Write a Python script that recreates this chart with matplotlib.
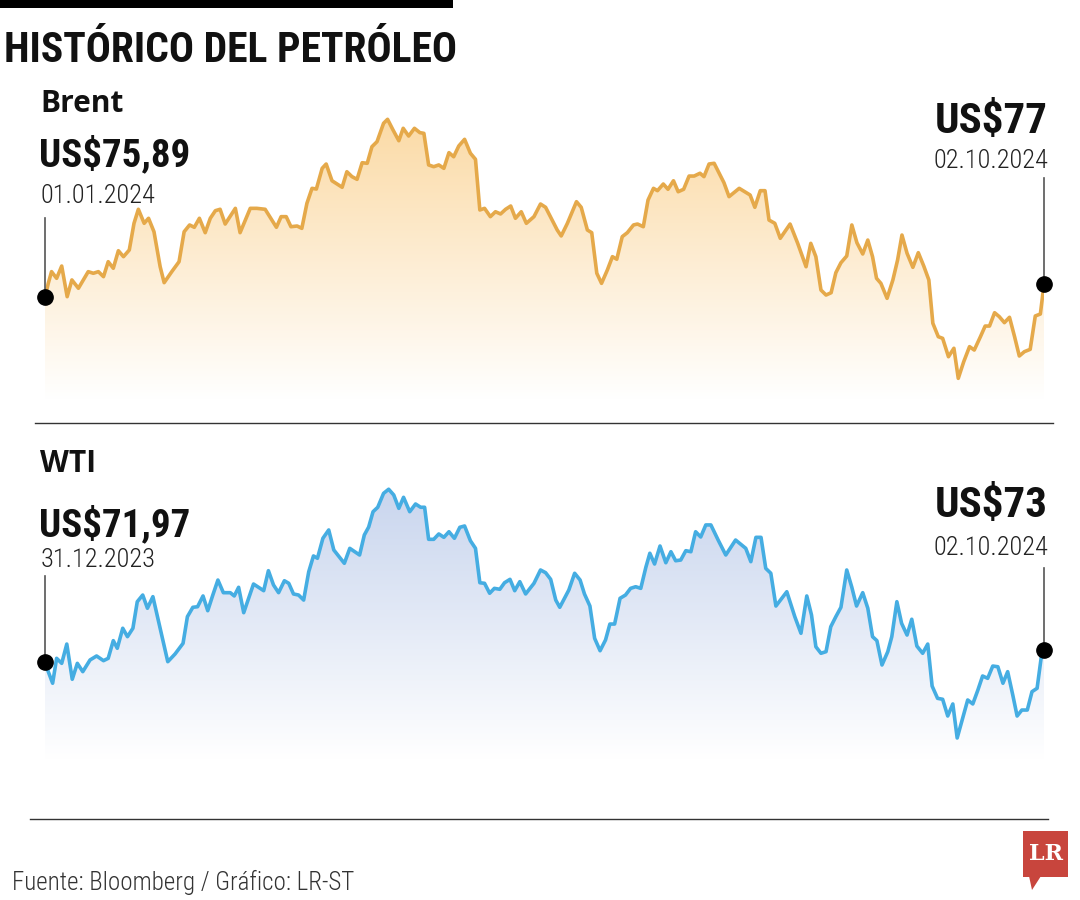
import numpy as np
import matplotlib
matplotlib.use('Agg')
import matplotlib.pyplot as plt
from matplotlib import font_manager as fm
from matplotlib.colors import LinearSegmentedColormap
from matplotlib.patches import Polygon, Rectangle
from matplotlib.lines import Line2D

# dias desde el 01.01.2024 y precio de cierre (US$ por barril)
brent_dias = [0, 0.9, 1.8, 3.2, 4.6, 6.1, 7.4, 9.2, 11.9, 13.3,
              14.7, 16.1, 17.4, 18.8, 20.2, 21.6, 23.2, 24.5, 25.7, 27.3,
              28.5, 30.0, 31.7, 32.8, 34.9, 36.9, 38.3, 39.8, 41.1, 42.5,
              44.1, 45.5, 46.9, 48.2, 49.6, 52.4, 53.7, 56.5, 58.3, 60.6,
              63.7, 65.0, 66.4, 67.7, 69.4, 70.7, 72.1, 73.5, 74.7, 76.3,
              77.4, 79.0, 81.8, 83.1, 84.5, 85.9, 87.3, 88.7, 90.0, 91.4,
              93.2, 94.3, 95.8, 97.4, 98.6, 100.1, 101.7, 103.2, 104.3, 105.6,
              107.0, 108.4, 109.8, 111.2, 112.5, 113.9, 115.5, 117.1, 118.5, 119.7,
              121.0, 122.6, 124.0, 125.4, 126.8, 128.2, 129.5, 131.1, 132.5, 134.6,
              136.4, 137.8, 139.2, 141.0, 142.1, 143.8, 146.3, 147.6, 149.3, 150.5,
              151.9, 153.2, 154.8, 156.2, 157.4, 158.9, 160.3, 162.0, 163.1, 164.7,
              166.0, 167.5, 168.6, 170.2, 171.5, 173.0, 174.3, 175.8, 177.3, 178.7,
              180.3, 181.4, 182.8, 184.2, 185.6, 186.9, 188.3, 191.1, 194.1, 195.4,
              196.9, 198.2, 199.3, 200.9, 202.4, 205.1, 207.2, 209.5, 210.8, 212.2,
              213.6, 215.0, 216.4, 217.7, 219.1, 220.7, 222.1, 223.5, 225.1, 226.5,
              227.8, 228.9, 230.1, 231.8, 233.4, 234.7, 235.9, 237.3, 238.9, 240.4,
              241.9, 243.3, 244.4, 245.9, 247.1, 248.7, 250.2, 251.4, 252.9, 254.5,
              255.8, 257.5, 258.8, 260.0, 261.4, 262.7, 264.1, 265.5, 266.9, 268.2,
              269.6, 271.2, 272.6, 274.0, 275.0]
brent_precio = [75.89, 77.09, 78.09, 77.52, 78.57, 75.95, 77.38, 76.67, 78.09, 77.95,
                78.09, 77.66, 78.94, 78.38, 79.88, 79.37, 79.94, 82.22, 83.42, 82.22,
                82.65, 81.50, 78.51, 77.15, 78.09, 78.94, 81.50, 82.08, 81.88, 82.65,
                81.42, 82.65, 83.30, 83.42, 82.16, 83.50, 81.42, 83.50, 83.50, 83.42,
                81.88, 82.79, 82.79, 81.93, 81.99, 81.79, 83.93, 85.21, 85.15, 86.92,
                87.29, 85.86, 85.30, 86.63, 86.21, 85.98, 87.40, 87.35, 88.77, 89.20,
                90.77, 91.11, 90.20, 89.28, 90.34, 89.68, 90.34, 89.97, 89.91, 87.21,
                87.06, 87.21, 86.92, 88.26, 87.91, 88.83, 89.40, 88.21, 87.69, 83.36,
                83.50, 82.79, 83.21, 83.02, 83.42, 83.70, 82.65, 83.21, 82.22, 82.79,
                83.87, 83.59, 82.74, 81.65, 81.14, 82.22, 84.07, 83.59, 81.65, 81.42,
                77.95, 77.09, 78.23, 79.37, 79.15, 81.08, 81.42, 82.08, 82.16, 81.93,
                84.21, 85.21, 85.01, 85.58, 85.13, 85.86, 84.92, 85.13, 86.26, 86.26,
                86.50, 86.21, 87.29, 87.35, 86.50, 85.69, 84.50, 85.21, 84.64, 83.59,
                85.01, 85.01, 82.50, 82.22, 80.94, 82.16, 80.51, 78.51, 80.51, 79.37,
                76.52, 76.09, 76.29, 78.00, 78.85, 79.43, 82.08, 80.56, 79.60, 80.79,
                79.37, 77.52, 77.09, 75.81, 77.38, 79.09, 81.22, 79.66, 78.46, 79.71,
                78.57, 77.38, 73.68, 72.53, 72.39, 70.82, 71.54, 68.97, 70.39, 71.68,
                71.39, 72.53, 73.44, 73.44, 74.58, 74.24, 73.73, 74.19, 72.53, 70.88,
                71.25, 71.45, 74.30, 74.47, 77.00]

wti_dias = [0, 0.9, 2.1, 3.2, 4.6, 6.0, 7.5, 8.9, 10.4, 12.4,
            14.2, 16.1, 17.4, 18.8, 19.9, 21.4, 22.7, 24.2, 25.4, 26.9,
            28.2, 29.7, 31.7, 33.8, 35.8, 38.0, 39.2, 40.7, 42.0, 43.5,
            44.8, 46.2, 47.6, 49.1, 51.0, 52.1, 53.3, 54.7, 57.4, 60.2,
            61.5, 62.9, 64.3, 65.9, 67.1, 68.4, 69.8, 71.2, 72.6, 73.9,
            75.0, 76.5, 78.1, 79.5, 82.4, 83.9, 86.6, 87.9, 89.1, 90.3,
            91.6, 93.2, 94.6, 96.0, 97.4, 98.7, 100.4, 102.0, 103.4, 104.5,
            105.6, 107.0, 108.4, 109.8, 111.2, 112.7, 114.2, 115.5, 117.1, 118.5,
            119.7, 121.0, 122.4, 123.7, 125.2, 126.5, 128.0, 129.3, 130.7, 132.3,
            134.6, 136.4, 137.8, 139.2, 140.6, 141.7, 144.2, 145.8, 147.3, 148.5,
            150.0, 151.3, 152.8, 154.3, 155.5, 156.8, 158.3, 159.8, 161.2, 162.6,
            164.0, 165.4, 166.5, 167.8, 169.3, 170.9, 172.3, 173.6, 175.0, 176.4,
            177.8, 179.1, 180.5, 181.9, 183.3, 185.3, 187.4, 190.1, 192.9, 194.3,
            195.7, 197.1, 198.4, 199.8, 201.2, 204.2, 206.4, 208.1, 209.7, 211.0,
            212.2, 213.6, 215.0, 216.3, 217.7, 219.1, 220.7, 222.1, 223.4, 225.1,
            226.5, 227.8, 229.0, 230.4, 232.0, 233.1, 234.5, 235.8, 237.3, 238.6,
            240.0, 241.6, 243.0, 244.2, 245.7, 247.1, 248.5, 249.9, 251.1, 252.6,
            254.0, 255.4, 256.8, 258.1, 259.5, 260.9, 262.3, 263.7, 265.0, 266.4,
            267.6, 268.9, 270.4, 271.7, 273.1, 274.2, 275.0]
wti_precio = [71.97, 71.12, 70.13, 72.26, 71.83, 73.48, 70.47, 71.83, 71.12, 72.12,
              72.46, 72.06, 72.26, 73.77, 73.12, 74.83, 74.11, 74.83, 77.10, 77.67,
              76.54, 77.53, 74.83, 71.97, 72.63, 73.54, 75.82, 76.62, 76.67, 77.59,
              76.33, 77.67, 78.95, 77.87, 77.87, 77.59, 78.33, 76.16, 78.61, 78.04,
              79.75, 78.53, 77.87, 78.89, 78.67, 77.76, 77.67, 77.24, 79.66, 81.01,
              80.81, 82.52, 83.23, 81.52, 80.38, 81.66, 81.09, 82.80, 83.48, 84.79,
              85.17, 86.36, 86.71, 86.22, 85.08, 86.02, 84.79, 85.45, 85.17, 85.17,
              82.43, 82.43, 82.89, 82.60, 83.08, 82.52, 83.46, 83.57, 82.31, 81.66,
              78.72, 78.67, 77.82, 78.24, 78.16, 78.72, 79.01, 78.04, 78.81, 77.76,
              78.67, 79.81, 79.58, 79.01, 77.24, 76.62, 78.10, 79.53, 78.95, 77.76,
              76.73, 73.97, 72.91, 73.83, 75.19, 75.19, 77.39, 77.67, 78.24, 78.38,
              78.24, 80.04, 81.24, 80.32, 81.86, 80.43, 81.37, 80.60, 80.66, 81.46,
              81.37, 83.08, 82.63, 83.66, 83.66, 82.37, 81.09, 82.37, 81.66, 80.52,
              82.60, 82.60, 79.95, 79.53, 76.73, 77.95, 75.82, 74.40, 77.59, 75.96,
              73.25, 72.69, 72.83, 74.96, 75.82, 76.62, 79.81, 78.33, 76.73, 77.87,
              76.54, 74.11, 73.77, 71.69, 72.83, 74.11, 77.10, 75.25, 74.25, 75.60,
              73.31, 72.69, 73.48, 69.89, 68.84, 68.76, 67.33, 68.36, 65.45, 67.13,
              68.70, 68.36, 69.55, 70.75, 70.55, 71.60, 71.54, 70.13, 71.12, 69.13,
              67.33, 67.84, 67.84, 69.41, 69.70, 72.26, 73.00]

etiquetas = {
    'Brent': ('US$75,89', '01.01.2024', 'US$77', '02.10.2024'),
    'WTI': ('US$71,97', '31.12.2023', 'US$73', '02.10.2024'),
}

nombres = {f.name for f in fm.fontManager.ttflist}


def elegir(cands):
    for c in cands:
        if c in nombres:
            return c
    return 'DejaVu Sans'


ANGOSTA = elegir(['Liberation Sans Narrow', 'Roboto Condensed', 'Open Sans Condensed', 'Liberation Sans'])
NORMAL = elegir(['Open Sans', 'Lato', 'Liberation Sans'])

W, H = 1080, 900
fig = plt.figure(figsize=(W / 100, H / 100), dpi=100)
fig.patch.set_facecolor('white')


def fy(y):
    return 1 - y / H


def panel(top, dias, precio, ylim, c_linea, c_relleno, largo_izq, largo_der):
    ax = fig.add_axes([45 / W, fy(top + 300), 999 / W, 300 / H])
    cmap = LinearSegmentedColormap.from_list('g', ['white', c_relleno])
    grad = np.linspace(1, 0, 256).reshape(-1, 1)
    im = ax.imshow(grad, cmap=cmap, vmin=0, vmax=1, aspect='auto', origin='upper',
                   extent=[dias[0], dias[-1], ylim[0], ylim[1]], zorder=1)
    verts = np.column_stack([np.r_[dias[0], dias, dias[-1]],
                             np.r_[ylim[0], precio, ylim[0]]])
    poly = Polygon(verts, closed=True, facecolor='none', edgecolor='none')
    ax.add_patch(poly)
    im.set_clip_path(poly)
    ax.plot(dias, precio, color=c_linea, lw=2.6, solid_joinstyle='round', zorder=3)
    ax.set_xlim(0, 275)
    ax.set_ylim(*ylim)
    ax.axis('off')
    # guias y puntos extremos
    ax.plot([dias[0], dias[0]], [precio[0], precio[0] + largo_izq], color='#555555', lw=1.2,
            clip_on=False, zorder=4)
    ax.plot([dias[-1], dias[-1]], [precio[-1], precio[-1] + largo_der], color='#555555', lw=1.2,
            clip_on=False, zorder=4)
    ax.plot([dias[0], dias[-1]], [precio[0], precio[-1]], 'o', ls='none', color='black', ms=11,
            clip_on=False, zorder=5)
    return ax


panel(100, brent_dias, brent_precio, (67.12, 92.76), '#E5A94A', '#FBD8A0', 6.8, 9.1)
panel(460, wti_dias, wti_precio, (63.57, 89.21), '#45ADE2', '#C3D1EC', 7.3, 7.0)

# barra y titulo
fig.add_artist(Rectangle((0, fy(8)), 453 / W, 8 / H, transform=fig.transFigure,
                         facecolor='black', edgecolor='none'))
fig.text(4 / W, fy(62), 'HISTÓRICO DEL PETRÓLEO', fontsize=30, fontweight='bold',
         family=ANGOSTA, va='baseline', color='#111111')

# posiciones de base (px) de: nombre, precio inicial, fecha inicial, precio final, fecha final
bases = {'Brent': (112, 166, 203, 133, 168), 'WTI': (472, 536, 567, 517, 555)}

for nombre in ['Brent', 'WTI']:
    ini, f_ini, fin, f_fin = etiquetas[nombre]
    b_nom, b_ini, b_fini, b_fin, b_ffin = bases[nombre]
    fig.text(40 / W, fy(b_nom), nombre, fontsize=21.5, fontweight='bold', family=NORMAL,
             va='baseline', color='#111111')
    fig.text(39 / W, fy(b_ini), ini, fontsize=28, fontweight='bold', family=ANGOSTA,
             va='baseline', color='#111111')
    fig.text(41 / W, fy(b_fini), f_ini, fontsize=19, fontweight='light', family=ANGOSTA,
             va='baseline', color='#222222')
    fig.text(1048 / W, fy(b_fin), fin, fontsize=31, fontweight='bold', family=ANGOSTA,
             va='baseline', ha='right', color='#111111')
    fig.text(1048 / W, fy(b_ffin), f_fin, fontsize=19, fontweight='light', family=ANGOSTA,
             va='baseline', ha='right', color='#222222')

fig.add_artist(Line2D([35 / W, 1053 / W], [fy(423), fy(423)], color='#333333', lw=1,
                      transform=fig.transFigure))
fig.add_artist(Line2D([30 / W, 1048 / W], [fy(819), fy(819)], color='#333333', lw=1,
                      transform=fig.transFigure))

fig.text(12 / W, fy(890), 'Fuente: Bloomberg / Gráfico: LR-ST', fontsize=18, fontweight='light',
         family=ANGOSTA, va='baseline', color='#333333')

# logo LR
rojo = '#C8453D'
fig.add_artist(Rectangle((1023 / W, fy(877)), 45 / W, 46 / H, transform=fig.transFigure,
                         facecolor=rojo, edgecolor='none'))
fig.add_artist(Polygon([[1029 / W, fy(876)], [1041 / W, fy(876)], [1032 / W, fy(890)]],
                       closed=True, transform=fig.transFigure, facecolor=rojo, edgecolor='none'))
fig.text(1045.5 / W, fy(854), 'LR', fontsize=16, fontweight='bold', family='DejaVu Serif',
         ha='center', va='center', color='white')

fig.savefig('out.png', dpi=100, facecolor='white')
